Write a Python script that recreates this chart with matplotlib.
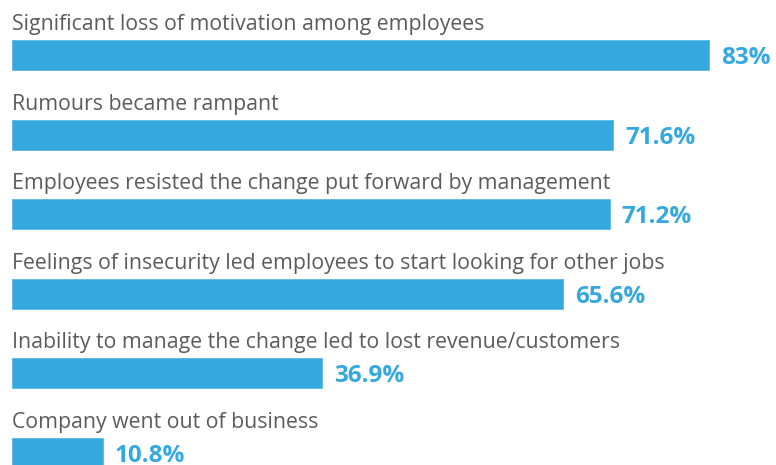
import matplotlib
matplotlib.use("Agg")
import matplotlib.pyplot as plt

# Survey results (percent of respondents)
categories = [
    "Significant loss of motivation among employees",
    "Rumours became rampant",
    "Employees resisted the change put forward by management",
    "Feelings of insecurity led employees to start looking for other jobs",
    "Inability to manage the change led to lost revenue/customers",
    "Company went out of business",
]
values = [83, 71.6, 71.2, 65.6, 36.9, 10.8]

bar_color = "#35a8df"
label_color = "#5b5b5b"

fig = plt.figure(figsize=(7.76, 4.65), dpi=100)
ax = fig.add_axes([0, 0, 1, 1])

px_per_unit = 697 / 83   # horizontal scale in pixels per percent
row_px = 79.6            # vertical spacing between rows
bar_h = 30 / row_px

ypos = list(range(len(categories)))
ax.barh(ypos, values, height=bar_h, color=bar_color, edgecolor="#5cb8e6", linewidth=0.6)

for y, cat, v in zip(ypos, categories, values):
    ax.text(0, y - bar_h / 2 - 10 / row_px, cat, fontsize=15.3, color=label_color,
            family="Open Sans", va="baseline", ha="left")
    ax.annotate(f"{v:g}%", xy=(v, y), xytext=(8.5, 0), textcoords="offset points",
                fontsize=17.5, fontweight="bold", color=bar_color, family="Open Sans",
                va="center_baseline", ha="left")

ax.set_xlim(-12 / px_per_unit, (776 - 12) / px_per_unit)
ax.set_ylim((465 - 55) / row_px, -55 / row_px)
ax.axis("off")

fig.savefig("out.png", dpi=100)
